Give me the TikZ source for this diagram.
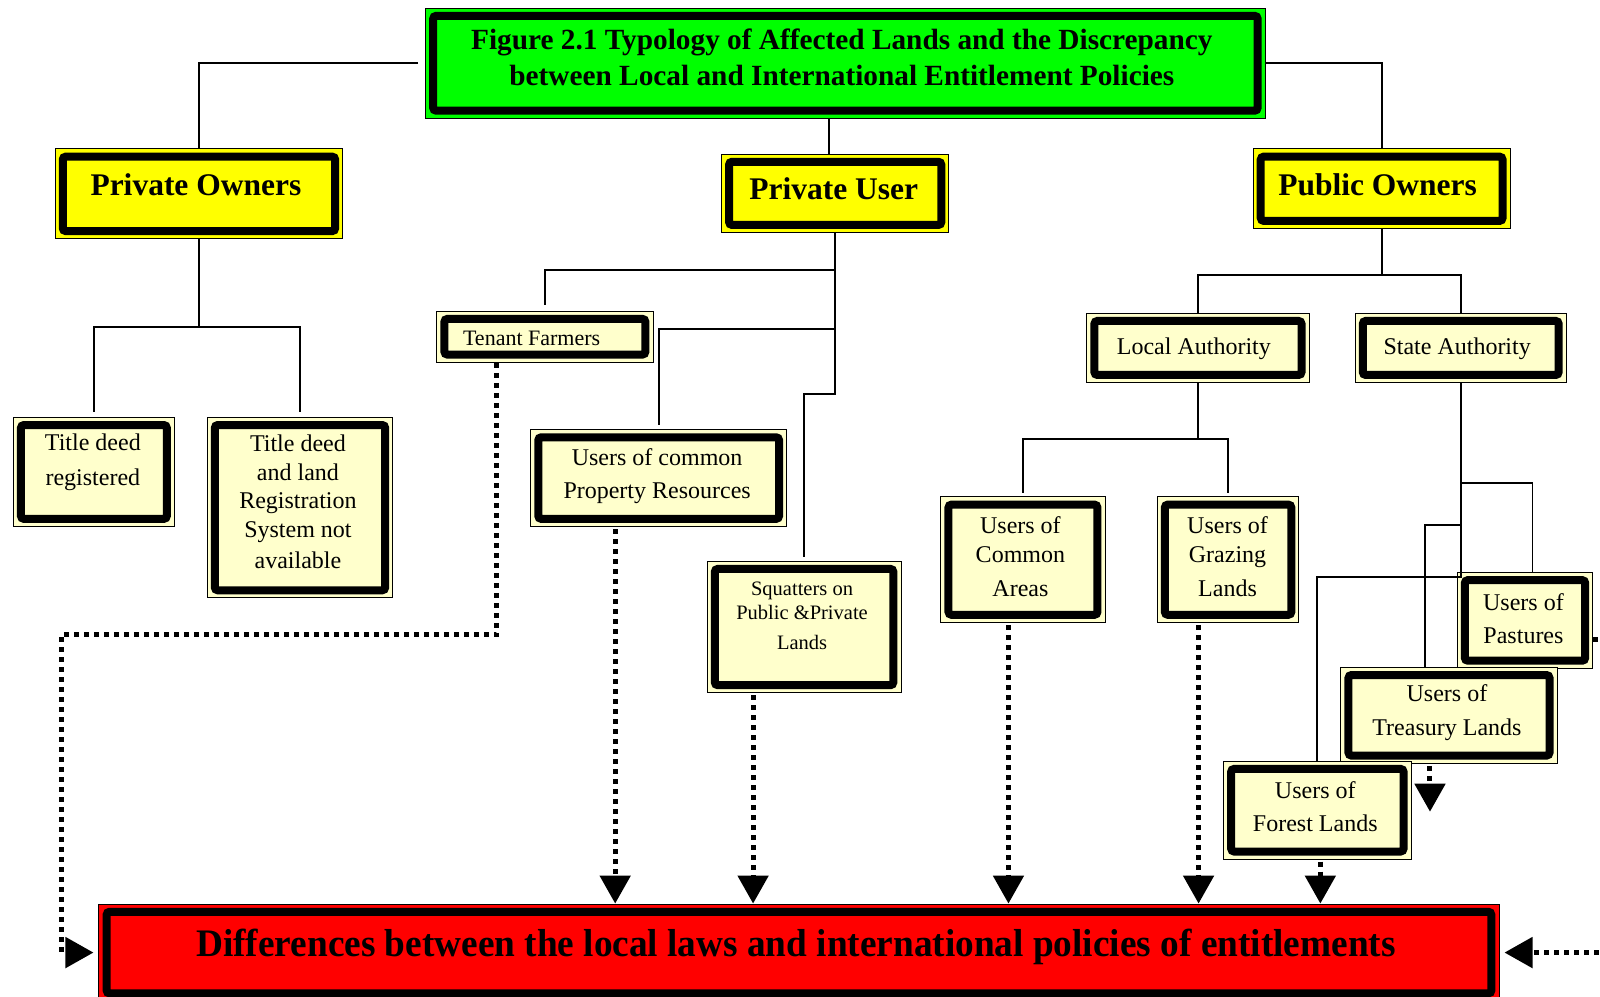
\documentclass[tikz,border=0pt]{standalone}
\usepackage{graphicx}
\usepackage{fontspec}
\setmainfont{Liberation Serif}
\usetikzlibrary{arrows.meta,fit}
\definecolor{ylw}{HTML}{FFFF00}
\definecolor{lyl}{HTML}{FFFFCC}
\definecolor{grn}{HTML}{00FF00}
\definecolor{rd}{HTML}{FF0000}
\newcommand\ftitle{\fontsize{29.3}{35.7}\selectfont\bfseries}
\newcommand\fone{\fontsize{31.5}{36}\selectfont\bfseries}
\tikzset{
 outerbox/.style={draw=black, line width=1pt, inner sep=0pt},
 innerborder/.style={draw=black, line width=8pt, rounded corners=3pt},
 conn/.style={draw=black, line width=1.8pt},
 dotarrow/.style={draw=black, line width=5pt, dash pattern=on 5pt off 5pt, -{Triangle[length=28pt,width=30pt]}},
 lbl/.style={align=center, inner sep=0pt, text=black},
}
\newcommand\tbox[6]{%
 \node[outerbox, fill=#6, fit={(#2,#3) (#4,#5)}] (#1) {};
 \draw[innerborder] ([shift={(8,8)}]#1.north west) rectangle ([shift={(-8,-8)}]#1.south east);
}
\begin{document}
\begin{tikzpicture}[x=1.0204pt, y=-1.0204pt]
\useasboundingbox (0,0) rectangle (1568,977);
\clip (0,0) rectangle (1568,977);
% boxes
\tbox{title}{417}{8}{1240}{116}{grn}
\tbox{po}{54}{146}{336}{234}{ylw}
\tbox{pu}{707}{151}{930}{228}{ylw}
\tbox{pb}{1228}{146}{1480}{224}{ylw}
\tbox{tdr}{13}{409}{171}{516}{lyl}
\tbox{tdn}{203}{409}{385}{586}{lyl}
\tbox{tf}{428}{305}{640}{355}{lyl}
\tbox{ucp}{520}{421}{771}{516}{lyl}
\tbox{sq}{693}{550}{883}{679}{lyl}
\tbox{la}{1065}{307}{1283}{375}{lyl}
\tbox{sa}{1328}{307}{1535}{375}{lyl}
\tbox{uca}{922}{487}{1083}{610}{lyl}
\tbox{ugl}{1134}{487}{1273}{610}{lyl}
\tbox{pas}{1428}{561}{1561}{655}{lyl}
\tbox{tre}{1314}{654}{1526}{748}{lyl}
\tbox{frs}{1199}{746}{1383}{842}{lyl}
\tbox{red}{97}{886}{1469}{981}{rd}
% texts
\node[lbl,font=\ftitle] (title-t) at (825,56) {Figure 2.1 Typology of Affected Lands and the Discrepancy\\between Local and International Entitlement Policies};
\node[lbl,font=\fone] (po-t) at (192,181) {Private Owners};
\node[lbl,font=\fone] (pu-t) at (817,185) {Private User};
\node[lbl,font=\fone] (pb-t) at (1350,181) {Public Owners};
\node[lbl,font=\fontsize{24}{34.7}\selectfont] (tdr-t) at (91,453) {Title deed\\registered};
\node[lbl,font=\fontsize{24}{28.6}\selectfont] (tdn-t) at (292,492) {Title deed\\and land\\Registration\\System not\\[3pt]available};
\node[lbl,font=\fontsize{22}{26}\selectfont] (tf-t) at (521,332) {Tenant Farmers};
\node[lbl,font=\fontsize{24}{33.7}\selectfont] (ucp-t) at (644,466.5) {Users of common\\Property Resources};
\node[lbl,font=\fontsize{20.5}{24.5}\selectfont] (sq-t) at (786,603) {Squatters on\\Public \&Private\\[5pt]Lands};
\node[lbl,font=\fontsize{24}{28}\selectfont] (la-t) at (1170,342) {Local Authority};
\node[lbl,font=\fontsize{24}{28}\selectfont] (sa-t) at (1428,342) {State Authority};
\node[lbl,font=\fontsize{24}{28.6}\selectfont] (uca-t) at (1000,545.5) {Users of\\Common\\[5pt]Areas};
\node[lbl,font=\fontsize{24}{28.6}\selectfont] (ugl-t) at (1203,545.5) {Users of\\Grazing\\[5pt]Lands};
\node[lbl,font=\fontsize{24}{32.7}\selectfont] (pas-t) at (1493,606) {Users of\\Pastures};
\node[lbl,font=\fontsize{24}{33.7}\selectfont] (tre-t) at (1418,698.5) {Users of\\Treasury Lands};
\node[lbl,font=\fontsize{24}{33.7}\selectfont] (frs-t) at (1289,790.5) {Users of\\Forest Lands};
\node[lbl] (red-t) at (780,928) {\scalebox{0.956}[1]{\fontsize{39}{44}\selectfont\bfseries Differences between the local laws and international policies of entitlements}};
% solid connectors
\draw[conn] ([xshift=-7pt]title.west) -| (po.north);
\draw[conn] (title.east) -| (pb.north);
\coordinate (pux) at ([xshift=-6pt]pu.north);
\draw[conn] (pux) -- (pux |- title.south);
\draw[conn, shorten >=5pt] (po.south) -- ++(0,86) -| (tdr.north);
\draw[conn, shorten >=5pt] (po.south) -- ++(0,86) -| (tdn.north);
\draw[conn, shorten >=6pt] (pu.south) -- ++(0,36) -| (tf.north);
\draw[conn, shorten >=4pt] (pu.south) -- ++(0,94) -| (ucp.north);
\draw[conn, shorten >=4pt] (pu.south) -- ++(0,158) -| (sq.north);
\draw[conn] (pb.south) -- ++(0,45) -| (la.north);
\draw[conn] (pb.south) -- ++(0,45) -| (sa.north);
\draw[conn, shorten >=3pt] (la.south) -- ++(0,55) -| (uca.north);
\draw[conn, shorten >=3pt] (la.south) -- ++(0,55) -| (ugl.north);
\draw[conn] (sa.south) -- ++(0,98) -| ([xshift=7.5pt]pas.north);
\draw[conn] (sa.south) -- ++(0,139) -| ([xshift=-24pt]tre.north);
\draw[conn] (sa.south) -- ++(0,190) -| (frs.north);
% dotted arrows
\coordinate (lc) at (60,622);
\draw[dotarrow] ([xshift=-48pt]tf.south) |- (lc) |- ([xshift=-5pt]red.west);
\foreach \n/\s in {ucp/-43.5, sq/-51, uca/-14.5, ugl/-29.5, frs/3}{
  \coordinate (a-\n) at ([xshift=\s pt, yshift=-2pt]\n.south);
  \draw[dotarrow] (a-\n) -- (a-\n |- red.north);
}
\coordinate (a-tre) at ([xshift=-19pt, yshift=-2pt]tre.south);
\draw[dotarrow] (a-tre) -- ++(0,45);
\coordinate (a-pas) at ([yshift=-19pt]pas.east);
\draw[dotarrow] (a-pas) -- ++(50,0) |- ([xshift=5pt]red.east);
\end{tikzpicture}
\end{document}
